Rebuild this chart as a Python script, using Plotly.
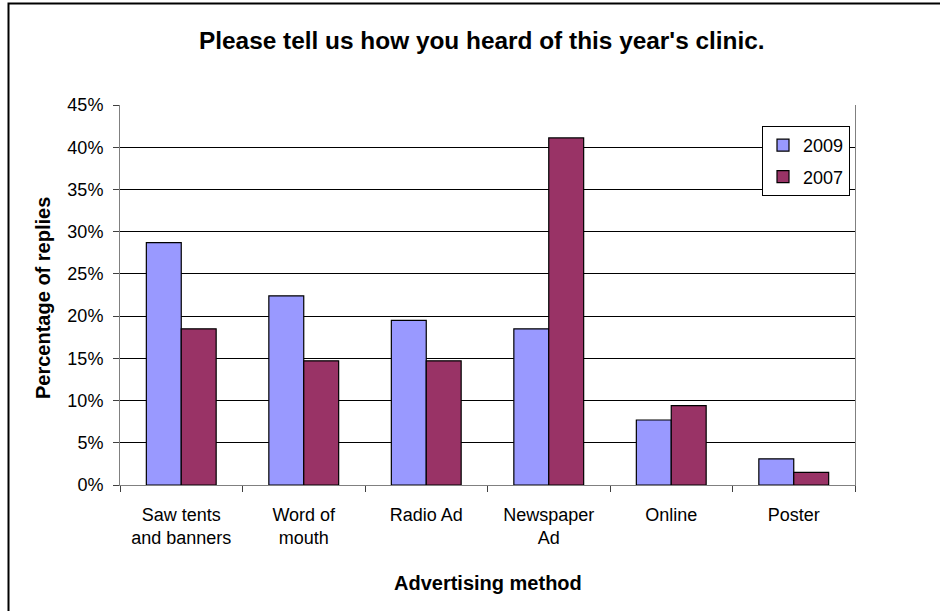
import plotly.graph_objects as go

categories = ["Saw tents<br>and banners", "Word of<br>mouth", "Radio Ad",
              "Newspaper<br>Ad", "Online", "Poster"]
values_2009 = [28.7, 22.4, 19.5, 18.5, 7.7, 3.1]
values_2007 = [18.5, 14.7, 14.7, 41.1, 9.4, 1.5]
y_ticks = [0, 5, 10, 15, 20, 25, 30, 35, 40, 45]
y_tick_labels = [f"{v}%" for v in y_ticks]

FONT = "Liberation Sans, Arial, sans-serif"

fig = go.Figure()
fig.add_trace(go.Bar(name="2009", x=categories, y=values_2009, legendgroup="a",
                     marker=dict(color="#9999FF", line=dict(color="#000000", width=1.2))))
fig.add_trace(go.Bar(name="2007", x=categories, y=values_2007, legendgroup="b",
                     marker=dict(color="#993366", line=dict(color="#000000", width=1.2))))

L, R, T, B = 120, 855, 105, 485
W, H = R - L, B - T

def px(x):
    return (x - L) / W

def py(y):
    return (B - y) / H

fig.update_layout(
    width=940, height=611,
    margin=dict(l=L, r=940 - R, t=T, b=611 - B, pad=0),
    paper_bgcolor="white", plot_bgcolor="white",
    font=dict(family=FONT, size=18, color="#000000"),
    barmode="group", bargap=0.43, bargroupgap=0,
    showlegend=True,
    legend=dict(x=px(762), y=py(126), xanchor="left", yanchor="top",
                bgcolor="white", bordercolor="#000000", borderwidth=1,
                font=dict(size=18, family=FONT), traceorder="grouped",
                tracegroupgap=5, itemwidth=30),
    xaxis=dict(showline=True, linecolor="#808080", linewidth=1,
               ticks="outside", tickson="boundaries", ticklen=6, tickcolor="#404040",
               showgrid=False, tickfont=dict(size=18), ticklabelstandoff=13),
    yaxis=dict(range=[0, 45], tickvals=y_ticks, ticktext=y_tick_labels,
               showline=True, linecolor="#808080", linewidth=1, mirror=True,
               ticks="outside", ticklen=6, tickcolor="#404040",
               showgrid=True, gridcolor="#000000", gridwidth=1,
               zeroline=False, tickfont=dict(size=18), ticklabelstandoff=6),
    annotations=[
        dict(text="<b>Please tell us how you heard of this year's clinic.</b>",
             xref="paper", yref="paper", x=px(481.5), y=py(41),
             xanchor="center", yanchor="middle", showarrow=False,
             font=dict(size=24.4, family=FONT)),
        dict(text="<b>Advertising method</b>",
             xref="paper", yref="paper", x=px(487.5), y=py(583),
             xanchor="center", yanchor="middle", showarrow=False,
             font=dict(size=20, family=FONT)),
        dict(text="<b>Percentage of replies</b>",
             xref="paper", yref="paper", x=px(43), y=py(298),
             xanchor="center", yanchor="middle", showarrow=False, textangle=-90,
             font=dict(size=20, family=FONT)),
    ],
    shapes=[
        dict(type="rect", xref="paper", yref="paper",
             x0=px(8.5), y0=py(3.5), x1=px(1000), y1=py(700),
             line=dict(color="#000000", width=2), fillcolor="rgba(0,0,0,0)",
             layer="above"),
    ],
)

fig.write_html("out.html", config={"displayModeBar": False},
               post_script="document.body.style.margin='0';")
